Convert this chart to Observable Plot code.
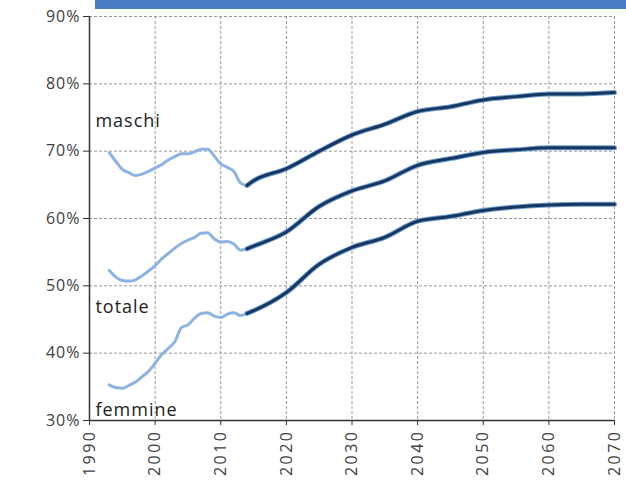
<!DOCTYPE html>
<html>
<head>
<meta charset="utf-8">
<script src="https://cdn.jsdelivr.net/npm/d3@7"></script>
<script src="https://cdn.jsdelivr.net/npm/@observablehq/plot@0.6"></script>
<style>
  html, body { margin: 0; padding: 0; background: #fff; }
  #wrap { position: relative; width: 626px; height: 491px; }
  #band { position: absolute; left: 95px; top: 0; width: 531px; height: 9px; background: #4a7cc4; }
  svg { display: block; }
  g[aria-label="x-axis tick label"] text { letter-spacing: 2.5px; }
  g[aria-label="y-axis tick label"] text { letter-spacing: 1px; }
  g.serieslabel text { letter-spacing: 1px; }
</style>
</head>
<body>
<div id="wrap"><div id="band"></div><div id="chart"></div></div>
<script>
const histYears = [1993,1994,1995,1996,1997,1998,1999,2000,2001,2002,2003,2004,2005,2006,2007,2008,2009,2010,2011,2012,2013,2014];
const histMaschi = [69.8,68.5,67.3,66.8,66.4,66.6,67.0,67.5,68.0,68.7,69.2,69.6,69.6,69.9,70.3,70.3,69.3,68.1,67.6,67.0,65.3,64.9];
const histTotale = [52.3,51.3,50.8,50.7,50.9,51.5,52.2,53.0,54.0,54.8,55.6,56.3,56.8,57.2,57.8,57.9,57.0,56.5,56.6,56.2,55.3,55.5];
const histFemmine = [35.3,34.9,34.8,35.2,35.7,36.5,37.3,38.5,39.8,40.7,41.7,43.8,44.2,45.2,45.9,46.0,45.5,45.3,45.8,46.0,45.6,45.9];

const projYears = [2014,2015,2020,2025,2030,2035,2040,2045,2050,2055,2060,2065,2070];
const projMaschi = [64.9,65.6,67.4,70.0,72.4,74.0,75.9,76.6,77.6,78.1,78.5,78.5,78.7];
const projTotale = [55.5,55.9,58.0,61.8,64.1,65.6,67.9,68.9,69.8,70.2,70.5,70.5,70.5];
const projFemmine = [45.9,46.3,49.0,53.2,55.7,57.2,59.6,60.3,61.2,61.7,62.0,62.1,62.1];

const seriesNames = ["maschi", "totale", "femmine"];
const labelValues = [74.5, 46.8, 31.5];
const xTicks = [1990,2000,2010,2020,2030,2040,2050,2060,2070];
const yTicks = [30,40,50,60,70,80,90];

const hist = [];
[histMaschi, histTotale, histFemmine].forEach((arr, i) =>
  arr.forEach((v, j) => hist.push({series: seriesNames[i], year: histYears[j], value: v / 100})));
const proj = [];
[projMaschi, projTotale, projFemmine].forEach((arr, i) =>
  arr.forEach((v, j) => proj.push({series: seriesNames[i], year: projYears[j], value: v / 100})));
const labels = seriesNames.map((s, i) => ({name: s, year: 1990.9, value: labelValues[i] / 100}));

const font = "'Open Sans', 'DejaVu Sans', sans-serif";

const chart = Plot.plot({
  width: 626,
  height: 491,
  marginLeft: 89,
  marginRight: 12,
  marginTop: 16,
  marginBottom: 71,
  style: {fontFamily: font, fontSize: "15px", color: "#404040", background: "transparent"},
  x: {domain: [1990, 2070]},
  y: {domain: [0.3, 0.9]},
  marks: [
    Plot.gridX(xTicks, {stroke: "#999", strokeOpacity: 1, strokeDasharray: "3,2", strokeWidth: 1}),
    Plot.gridY(yTicks.map(d => d / 100), {stroke: "#999", strokeOpacity: 1, strokeDasharray: "3,2", strokeWidth: 1}),
    Plot.axisY(yTicks.map(d => d / 100), {tickFormat: d => Math.round(d * 100) + "%", tickSize: 6, tickPadding: 3, stroke: "#333", fill: "#404040", fontSize: 16, label: null}),
    Plot.axisX(xTicks, {tickFormat: d => String(d), tickSize: 5, tickPadding: 4, tickRotate: -90, stroke: "#333", fill: "#404040", fontSize: 16, label: null}),
    Plot.ruleX([1990], {stroke: "#333", strokeWidth: 1.5}),
    Plot.ruleY([0.3], {stroke: "#333", strokeWidth: 1.5}),
    Plot.line(hist, {x: "year", y: "value", z: "series", stroke: "#8db3e2", strokeWidth: 3, curve: "monotone-x"}),
    Plot.line(proj, {x: "year", y: "value", z: "series", stroke: "#6f9fd8", strokeWidth: 5, curve: "monotone-x"}),
    Plot.line(proj, {x: "year", y: "value", z: "series", stroke: "#17375e", strokeWidth: 3, curve: "monotone-x"}),
    Plot.text(labels, {x: "year", y: "value", text: "name", textAnchor: "start", fill: "#222", fontSize: 18, className: "serieslabel"})
  ]
});
document.getElementById("chart").appendChild(chart);
</script>
</body>
</html>
